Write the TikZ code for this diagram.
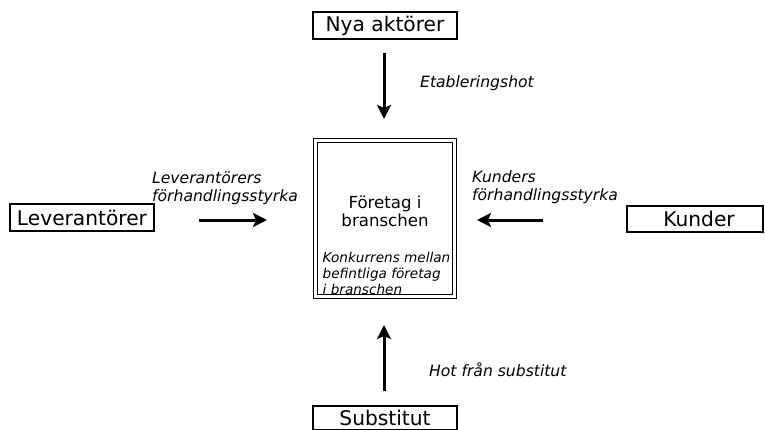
\documentclass[tikz,border=0pt]{standalone}
\usepackage{fontspec}
\setmainfont{DejaVu Sans}
\usetikzlibrary{arrows.meta}
\begin{document}
\begin{tikzpicture}[x=1pt,y=1pt,
  actor/.style={draw, line width=1.4pt, inner sep=0pt, font=\fontsize{20.2}{22}\selectfont},
  force/.style={font=\itshape\fontsize{15.6}{18}\selectfont, align=left, inner sep=0pt, anchor=west},
  push/.style={line width=3pt, -{Stealth[length=14pt,width=14pt,inset=3pt]}},
]
\clip (0,0) rectangle (765,429);
\fill[white] (0,0) rectangle (765,429);
% actor boxes
\node[actor, minimum width=144pt, minimum height=27pt] (nya) at (385,403.5) {Nya aktörer};
\node[actor, minimum width=144pt, minimum height=27pt] (lev) at (82,211.5) {Leverantörer};
\node[actor, minimum width=136pt, minimum height=26pt] (kund) at (695,210) {\hspace*{8pt}Kunder};
\node[actor, minimum width=144pt, minimum height=24pt] (sub) at (385,11) {Substitut};
% central box
\node[draw, double, double distance=2.5pt, line width=1pt, minimum width=139pt, minimum height=156pt, inner sep=0pt] (firm) at (385,210.5) {};
\node[font=\fontsize{16.6}{18}\selectfont, align=center, inner sep=0pt] (firmname) at (385,218) {Företag i\\branschen};
\node[font=\itshape\fontsize{13.6}{16}\selectfont, align=left, anchor=west, inner sep=0pt] (rivalry) at (322.5,156) {Konkurrens mellan\\befintliga företag\\i branschen};
% arrow ends
\coordinate (nyaA) at (384,376);
\coordinate (nyaB) at (384,310);
\coordinate (levA) at (199,209);
\coordinate (levB) at (267,209);
\coordinate (kundA) at (543,209);
\coordinate (kundB) at (477,209);
\coordinate (subA) at (384,38);
\coordinate (subB) at (384,104);
\draw[push] (nyaA) -- (nyaB);
\draw[push] (levA) -- (levB);
\draw[push] (kundA) -- (kundB);
\draw[push] (subA) -- (subB);
% force labels
\node[force] (etab) at (420,346) {Etableringshot};
\node[force] (levlab) at (152,240.5) {Leverantörers\\förhandlingsstyrka};
\node[force] (kundlab) at (472,241.5) {Kunders\\förhandlingsstyrka};
\node[force] (sublab) at (429,59) {Hot från substitut};
\end{tikzpicture}
\end{document}
